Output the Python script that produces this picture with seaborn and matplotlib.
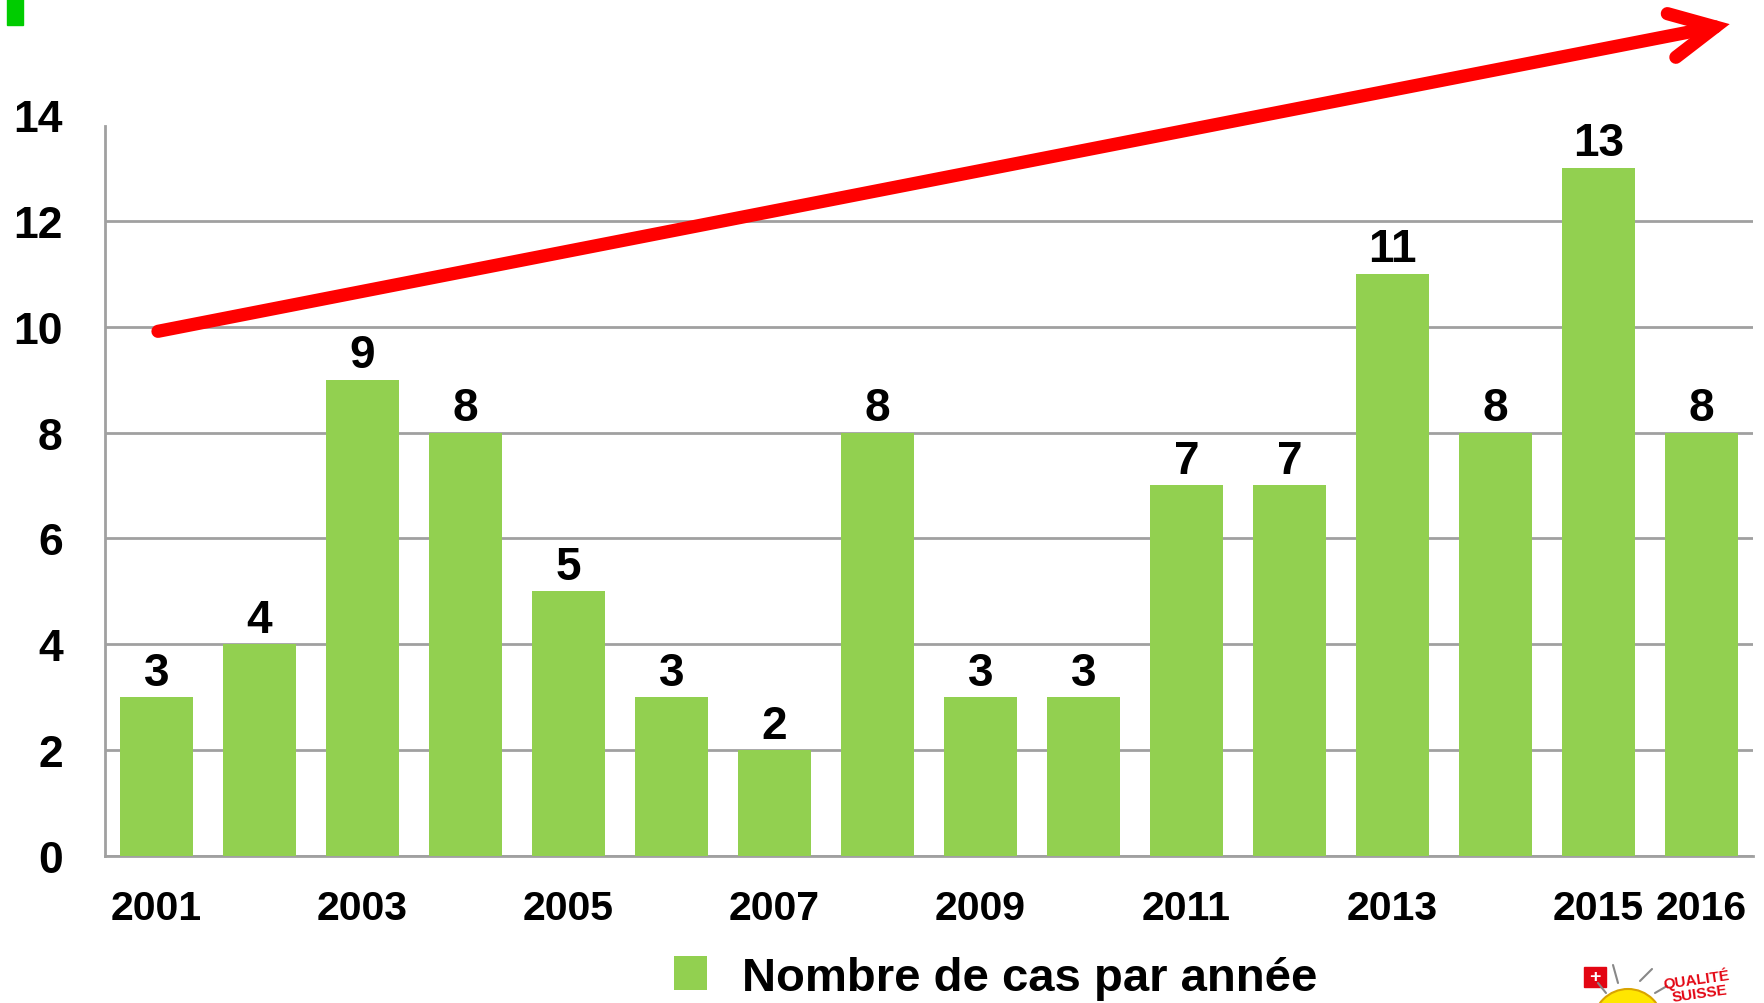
import matplotlib
matplotlib.use("Agg")
import matplotlib.pyplot as plt
import seaborn as sns
import pandas as pd
from matplotlib.patches import FancyArrowPatch, ArrowStyle, Rectangle, Ellipse

years = [str(y) for y in range(2001, 2017)]
cases = [3, 4, 9, 8, 5, 3, 2, 8, 3, 3, 7, 7, 11, 8, 13, 8]
shown_years = ['2001', '2003', '2005', '2007', '2009', '2011', '2013', '2015', '2016']
y_ticks = [0, 2, 4, 6, 8, 10, 12, 14]
legend_label = 'Nombre de cas par année'

bar_color = '#92D050'
grid_color = '#a0a0a0'

sns.set_style('white')
plt.rcParams['font.family'] = ['Liberation Sans', 'DejaVu Sans']
plt.rcParams['font.weight'] = 'bold'
plt.rcParams['text.color'] = 'black'
plt.rcParams['xtick.color'] = 'black'
plt.rcParams['ytick.color'] = 'black'

df = pd.DataFrame({'annee': years, 'cas': cases})

fig = plt.figure(figsize=(17.65, 10.04), dpi=100)
ax = fig.add_axes([0.0595, 0.1464, 0.9337, 0.7381])

sns.barplot(data=df, x='annee', y='cas', color=bar_color, saturation=1,
            width=0.71, linewidth=0, ax=ax, zorder=3, label=legend_label)

ax.set_xlim(-0.5, len(years) - 0.5)
ax.set_ylim(0, 14)
ax.set_yticks(y_ticks)
ax.yaxis.grid(True, color=grid_color, linewidth=2)
ax.set_axisbelow(True)

for s in ['top', 'right']:
    ax.spines[s].set_visible(False)
ax.spines['left'].set_color(grid_color)
ax.spines['left'].set_linewidth(2)
ax.spines['left'].set_bounds(0, 13.8)
ax.spines['bottom'].set_color(grid_color)
ax.spines['bottom'].set_linewidth(2)

ax.set_xticks(range(len(years)))
ax.set_xticklabels([y if y in shown_years else '' for y in years])
ax.tick_params(axis='x', length=0, pad=24, labelsize=29.5, labelcolor='black')
ax.tick_params(axis='y', length=9.5, width=2, color=grid_color,
               direction='out', pad=21, labelsize=32, labelcolor='black')
# no tick mark / gridline at 14 (spine stops below)
ax.yaxis.get_major_ticks()[-1].tick1line.set_visible(False)
ax.yaxis.get_major_ticks()[-1].gridline.set_visible(False)
ax.set_xlabel('')
ax.set_ylabel('')

for i, v in enumerate(cases):
    ax.annotate(str(v), (i, v), xytext=(0, 9), textcoords='offset points',
                ha='center', va='baseline', fontsize=33, fontweight='bold',
                color='black', zorder=4)

handles, labels = ax.get_legend_handles_labels()
if ax.get_legend() is not None:
    ax.get_legend().remove()
leg = fig.legend(handles[:1], labels[:1], loc='center',
                 bbox_to_anchor=(0.564, 0.025), frameon=False,
                 prop={'size': 34, 'weight': 'bold'},
                 handlelength=0.71, handleheight=0.73, handletextpad=0.73)
for t in leg.get_texts():
    t.set_color('black')

# trend arrow
arrow = FancyArrowPatch((0.0895, 0.669), (0.980, 0.975),
                        transform=fig.transFigure,
                        arrowstyle=ArrowStyle('->', head_length=3.2, head_width=1.6),
                        mutation_scale=10, color='#ff0000', linewidth=9.5,
                        capstyle='round', joinstyle='miter',
                        shrinkA=0, shrinkB=0)
fig.patches.append(arrow)

# small green mark in the corner
fig.patches.append(Rectangle((7 / 1765, 1 - 26 / 1004), 16 / 1765, 26 / 1004,
                             transform=fig.transFigure, color='#00cc00'))

# "Qualité Suisse" logo (partly cut off)
W, H = 1765, 1004
for x0, y0, x1, y1 in [(1598, 984, 1606, 994), (1613, 966, 1618, 984),
                       (1640, 982, 1652, 970), (1655, 994, 1667, 987)]:
    fig.add_artist(plt.Line2D([x0 / W, x1 / W], [1 - y0 / H, 1 - y1 / H],
                              transform=fig.transFigure, color='#888888', lw=1.5))
fig.patches.append(Ellipse((1628 / W, 1 - 1025 / H), 70 / W, 70 / H,
                           transform=fig.transFigure, facecolor='#ffe600',
                           edgecolor='#d9a400', lw=1.5))
fig.patches.append(Rectangle((1584 / W, 1 - 988 / H), 22 / W, 20 / H,
                             transform=fig.transFigure, color='#e30613'))
fig.text(1595 / W, 1 - 978 / H, '+', color='white', fontsize=14,
         fontweight='bold', ha='center', va='center')
fig.text(1696 / W, 1 - 979 / H, 'QUALITÉ', color='#e30613', fontsize=11,
         fontweight='bold', ha='center', va='center', rotation=8)
fig.text(1700 / W, 1 - 994 / H, 'SUISSE', color='#e30613', fontsize=11,
         fontweight='bold', ha='center', va='center', rotation=8)

fig.savefig('out.png', dpi=100)
